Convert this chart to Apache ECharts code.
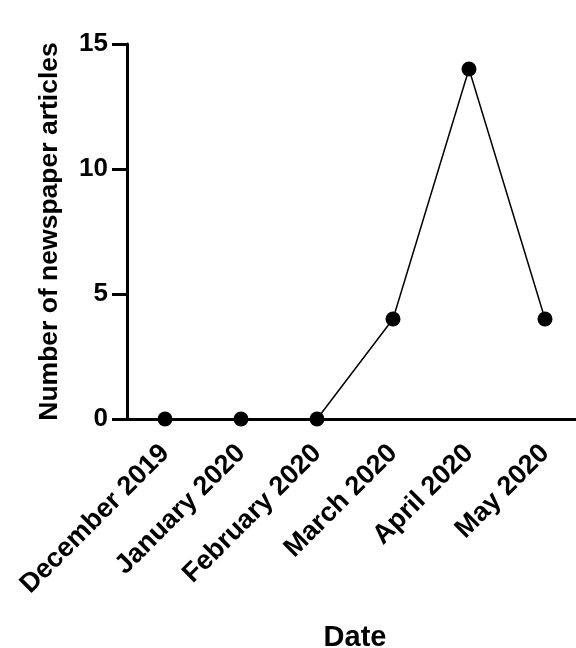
<!DOCTYPE html>
<html><head><meta charset="utf-8">
<script src="https://cdn.jsdelivr.net/npm/echarts@6/dist/echarts.min.js"></script>
<style>html,body{margin:0;padding:0;background:#fff;overflow:hidden}#c{width:576px;height:648px}</style>
</head><body><div id="c"></div>
<script>
const categories = ['December 2019','January 2020','February 2020','March 2020','April 2020','May 2020'];
const articles = [0, 0, 0, 4, 14, 4];
const yTicks = [0, 5, 10, 15];
const FONT = '"Liberation Sans", Arial, Helvetica, sans-serif';
const chart = echarts.init(document.getElementById('c'), null, {renderer:'canvas', width:576, height:648});
chart.setOption({
  animation:false,
  backgroundColor:'#fff',
  grid:{left:127, top:44, width:456, height:375, containLabel:false, outerBoundsMode:'none'},
  xAxis:{
    type:'category', data:categories, boundaryGap:true,
    name:'Date', nameLocation:'middle', nameGap:204,
    nameTextStyle:{fontFamily:FONT, fontWeight:'bold', fontSize:29, color:'#000'},
    axisLine:{lineStyle:{color:'#000', width:3}},
    axisTick:{alignWithLabel:true, length:13, lineStyle:{color:'#000', width:3}},
    axisLabel:{rotate:45, interval:0, margin:30, fontFamily:FONT, fontWeight:'bold', fontSize:27, color:'#000'},
    splitLine:{show:false}
  },
  yAxis:{
    type:'value', min:0, max:15, interval:5,
    name:'Number of newspaper articles', nameLocation:'middle', nameGap:64, nameRotate:90,
    nameTextStyle:{fontFamily:FONT, fontWeight:'bold', fontSize:26.5, color:'#000'},
    axisLine:{show:true, lineStyle:{color:'#000', width:3}},
    axisTick:{show:true, length:15, lineStyle:{color:'#000', width:3}},
    axisLabel:{margin:19, fontFamily:FONT, fontWeight:'bold', fontSize:26, color:'#000',
      formatter: v => yTicks.includes(v) ? String(v) : ''},
    splitLine:{show:false}
  },
  series:[{
    type:'line', data:articles, symbol:'circle', symbolSize:15,
    lineStyle:{color:'#000', width:1.5}, itemStyle:{color:'#000'}
  }]
});
</script></body></html>
